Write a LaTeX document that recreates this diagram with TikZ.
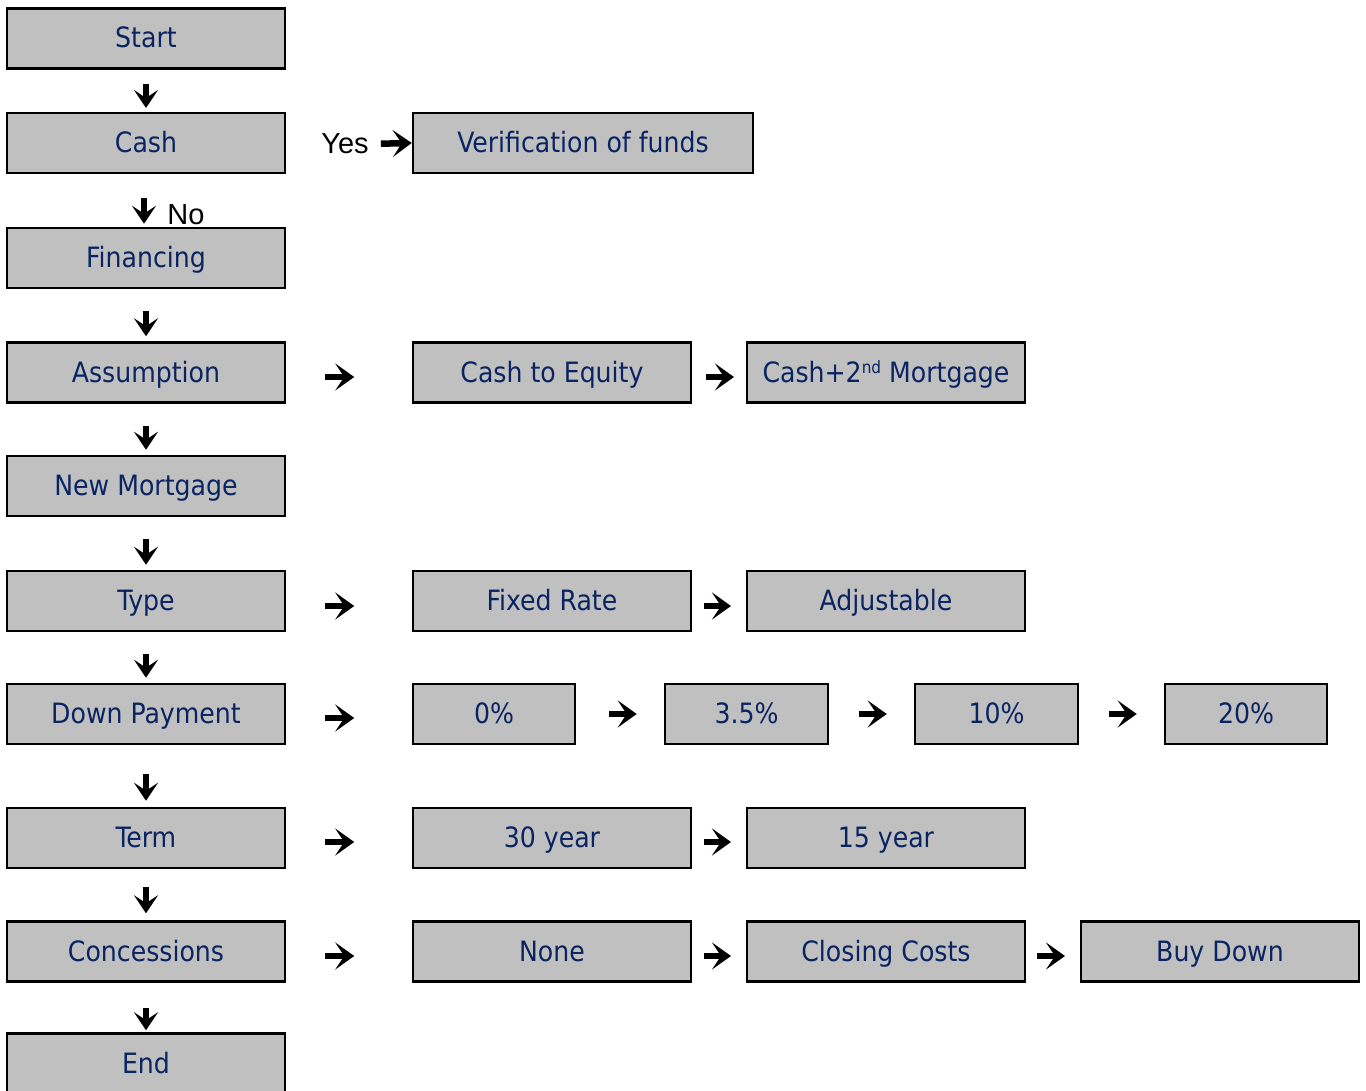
\documentclass[tikz,border=0pt]{standalone}
\usepackage{fontspec}
\setmainfont{DejaVu Sans Condensed}
\newfontfamily\arialf{Liberation Sans}
\usetikzlibrary{arrows.meta}
\definecolor{boxgray}{HTML}{C0C0C0}
\definecolor{navytext}{HTML}{0A2462}
\tikzset{
  box/.style={draw=black, line width=2.5pt, fill=boxgray, text=navytext,
    minimum height=60pt, inner sep=0pt, text height=24pt, text depth=5pt,
    font=\fontsize{28}{31}\selectfont},
  wl/.style={box, minimum width=278pt},
  wm/.style={box, minimum width=162pt},
  lbl/.style={inner sep=0pt, text=black, font=\arialf\fontsize{29}{32}\selectfont},
  darr/.style={line width=6pt, -{Stealth[width=24pt,length=18pt,inset=8pt]}},
  rarr/.style={line width=6.5pt, -{Stealth[width=27pt,length=19pt,inset=9pt]}}
}
\begin{document}
\begin{tikzpicture}[x=1pt,y=-1pt]
\useasboundingbox (0,0) rectangle (1366,1091);
\begin{scope}
\clip (0,0) rectangle (1366,1091);
% labels
\node[lbl] (no) at (186,215) {No};
\node[lbl] (yes) at (345,144) {Yes};
% left column
\node[wl] (start) at (146,38.5) {Start};
\node[wl] (cash) at (146,143) {Cash};
\node[wl] (fin) at (146,258) {Financing};
\node[wl] (assump) at (146,372.5) {Assumption};
\node[wl] (newm) at (146,486) {New Mortgage};
\node[wl] (type) at (146,601) {Type};
\node[wl] (down) at (146,714) {Down Payment};
\node[wl] (term) at (146,838) {Term};
\node[wl] (conc) at (146,951.5) {Concessions};
\node[wl] (end) at (146,1063.5) {End};
% right boxes
\node[box, minimum width=340pt] (verif) at (583,143) {Verification of funds};
\node[wl] (cte) at (552,372.5) {Cash to Equity};
\node[wl] (c2m) at (886,372.5) {Cash+2{\fontsize{17}{17}\selectfont\raisebox{9pt}{nd}} Mortgage};
\node[wl] (fixed) at (552,601) {Fixed Rate};
\node[wl] (adj) at (886,601) {Adjustable};
\node[wm] (p0) at (494,714) {0\%};
\node[box, minimum width=163pt] (p35) at (746.5,714) {3.5\%};
\node[box, minimum width=163pt] (p10) at (996.5,714) {10\%};
\node[wm] (p20) at (1246,714) {20\%};
\node[wl] (y30) at (552,838) {30 year};
\node[wl] (y15) at (886,838) {15 year};
\node[wl] (none) at (552,951.5) {None};
\node[wl] (close) at (886,951.5) {Closing Costs};
\node[wl] (buy) at (1220,951.5) {Buy Down};
% down arrows
\draw[darr, shorten <=14pt, shorten >=3.75pt] (start.south) -- (cash.north);
\draw[darr, shorten <=24pt, shorten >=3pt] ([xshift=-2pt]cash.south) -- ([xshift=-2pt]fin.north);
\draw[darr, shorten <=22pt, shorten >=5pt] (fin.south) -- (assump.north);
\draw[darr, shorten <=22pt, shorten >=5pt] (assump.south) -- (newm.north);
\draw[darr, shorten <=22pt, shorten >=5pt] (newm.south) -- (type.north);
\draw[darr, shorten <=22pt, shorten >=5pt] (type.south) -- (down.north);
\draw[darr, shorten <=29pt, shorten >=6pt] (down.south) -- (term.north);
\draw[darr, shorten <=18pt, shorten >=7pt] (term.south) -- (conc.north);
\draw[darr, shorten <=25pt, shorten >=2pt] (conc.south) -- (end.north);
% right arrows
\draw[rarr, shorten <=12pt] (yes.east) -- (verif.west);
\draw[rarr, shorten <=39pt, shorten >=57.5pt] ([yshift=-4.5pt]assump.east) -- ([yshift=-4.5pt]cte.west);
\draw[rarr, shorten <=13.75pt, shorten >=11.75pt] ([yshift=-4.5pt]cte.east) -- ([yshift=-4.5pt]c2m.west);
\draw[rarr, shorten <=39pt, shorten >=57.5pt] ([yshift=-5pt]type.east) -- ([yshift=-5pt]fixed.west);
\draw[rarr, shorten <=11.75pt, shorten >=14.75pt] ([yshift=-5pt]fixed.east) -- ([yshift=-5pt]adj.west);
\draw[rarr, shorten <=39pt, shorten >=57.5pt] ([yshift=-4pt]down.east) -- ([yshift=-4pt]p0.west);
\draw[rarr, shorten <=33pt, shorten >=27pt] (p0.east) -- (p35.west);
\draw[rarr, shorten <=30pt, shorten >=27pt] (p35.east) -- (p10.west);
\draw[rarr, shorten <=30pt, shorten >=27pt] (p10.east) -- (p20.west);
\draw[rarr, shorten <=39pt, shorten >=57.5pt] ([yshift=-4pt]term.east) -- ([yshift=-4pt]y30.west);
\draw[rarr, shorten <=11.75pt, shorten >=14.75pt] ([yshift=-4pt]y30.east) -- ([yshift=-4pt]y15.west);
\draw[rarr, shorten <=39pt, shorten >=57.5pt] ([yshift=-4.5pt]conc.east) -- ([yshift=-4.5pt]none.west);
\draw[rarr, shorten <=11.75pt, shorten >=14.75pt] ([yshift=-4.5pt]none.east) -- ([yshift=-4.5pt]close.west);
\draw[rarr, shorten <=10.75pt, shorten >=14.75pt] ([yshift=-4.5pt]close.east) -- ([yshift=-4.5pt]buy.west);
\end{scope}
\end{tikzpicture}
\end{document}
